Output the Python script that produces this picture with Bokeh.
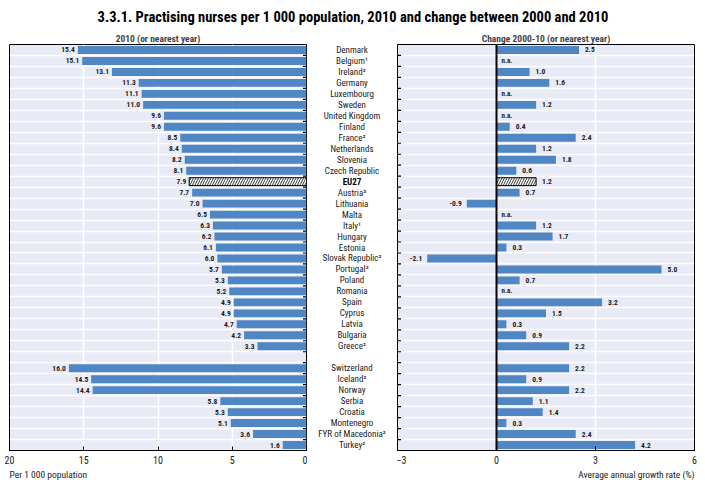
import numpy as np
from bokeh.plotting import figure
from bokeh.layouts import column, row
from bokeh.models import (ColumnDataSource, Range1d, FixedTicker, Span, Title)
from bokeh.core.properties import value
from bokeh.embed import file_html
from bokeh.resources import INLINE

# ---------------- data ----------------
countries = ["Denmark", "Belgium¹", "Ireland²", "Germany", "Luxembourg", "Sweden",
             "United Kingdom", "Finland", "France²", "Netherlands", "Slovenia",
             "Czech Republic", "EU27", "Austria³", "Lithuania", "Malta", "Italy¹",
             "Hungary", "Estonia", "Slovak Republic²", "Portugal²", "Poland",
             "Romania", "Spain", "Cyprus", "Latvia", "Bulgaria", "Greece²",
             "",
             "Switzerland", "Iceland²", "Norway", "Serbia", "Croatia", "Montenegro",
             "FYR of Macedonia²", "Turkey²"]

nurses_2010 = [15.4, 15.1, 13.1, 11.3, 11.1, 11.0, 9.6, 9.6, 8.5, 8.4, 8.2, 8.1,
               7.9, 7.7, 7.0, 6.5, 6.3, 6.2, 6.1, 6.0, 5.7, 5.3, 5.2, 4.9, 4.9,
               4.7, 4.2, 3.3,
               None,
               16.0, 14.5, 14.4, 5.8, 5.3, 5.1, 3.6, 1.6]

growth_2000_10 = [2.5, None, 1.0, 1.6, None, 1.2, None, 0.4, 2.4, 1.2, 1.8, 0.6,
                  1.2, 0.7, -0.9, None, 1.2, 1.7, 0.3, -2.1, 5.0, 0.7, None, 3.2,
                  1.5, 0.3, 0.9, 2.2,
                  None,
                  2.2, 0.9, 2.2, 1.1, 1.4, 0.3, 2.4, 4.2]

left_ticks = [20, 15, 10, 5, 0]
right_ticks = [-3, 0, 3, 6]

title_text = "3.3.1. Practising nurses per 1 000 population, 2010 and change between 2000 and 2010"
left_sub = "2010 (or nearest year)"
right_sub = "Change 2000-10 (or nearest year)"
left_xlabel = "Per 1 000 population"
right_xlabel = "Average annual growth rate (%)"
HIGHLIGHT = "EU27"
BLANK = ""

# ---------------- styles ----------------
BG = "#E8EAF5"
BLUE = "#4F86C4"
FONT = "Roboto Condensed, Liberation Sans Narrow, DejaVu Sans Condensed, sans-serif"
TXT = "#1a1a1a"

n = len(countries)
ys = np.arange(n)
y_range = Range1d(n - 0.5, -0.5)
boundaries = list(np.arange(n + 1) - 0.5)

def split(vals):
    bar, hat, na = dict(x=[], y=[], lab=[]), dict(x=[], y=[], lab=[]), dict(y=[])
    for c, v, y in zip(countries, vals, ys):
        if c == BLANK:
            continue
        if v is None:
            na["y"].append(y)
            continue
        d = hat if c == HIGHLIGHT else bar
        d["x"].append(v)
        d["y"].append(y)
        d["lab"].append(f"{v:.1f}")
    return bar, hat, na

def style_panel(p, edge_x):
    p.background_fill_color = BG
    p.border_fill_color = "white"
    p.outline_line_color = "black"
    p.outline_line_width = 1
    p.xgrid.grid_line_color = "white"
    p.xgrid.grid_line_width = 1.5
    p.ygrid.grid_line_color = "white"
    p.ygrid.grid_line_width = 1.5
    p.ygrid.ticker = FixedTicker(ticks=boundaries)
    p.ygrid.level = "underlay"
    p.xaxis.axis_line_color = "black"
    p.xaxis.major_tick_in = 4
    p.xaxis.major_tick_out = 0
    p.xaxis.minor_tick_line_color = None
    p.xaxis.major_label_text_font = FONT
    p.xaxis.major_label_text_font_size = "10px"
    p.xaxis.major_label_text_color = TXT
    p.xaxis.major_label_standoff = 5
    # small row-boundary ticks along the inner edge of the frame
    p.scatter(x=[edge_x] * len(boundaries), y=boundaries, marker="dash",
              size=7, line_color="black", line_width=1.2)
    p.title.text_font = FONT
    p.title.text_font_size = "9.5px"
    p.title.text_font_style = "bold"
    p.title.align = "center"
    p.title.standoff = 1

TOPH = 30
H = 480 - TOPH
TOP = 13
BOTTOM = 30

def hatched(p, src):
    p.hbar(y="y", left=0, right="x", height=0.72, source=ColumnDataSource(src),
           fill_color="white", line_color="black", line_width=1,
           hatch_pattern="/", hatch_color="#222222", hatch_scale=5,
           hatch_weight=0.9)

# ---------------- left panel ----------------
left = figure(width=307, height=H, x_range=Range1d(20, 0), y_range=y_range,
              y_axis_location=None, toolbar_location=None,
              output_backend="svg", title=left_sub,
              min_border_left=9, min_border_right=1,
              min_border_top=TOP, min_border_bottom=BOTTOM)
left.xaxis.ticker = FixedTicker(ticks=left_ticks)
lb, lh, _ = split(nurses_2010)
left.hbar(y="y", left=0, right="x", height=0.72, source=ColumnDataSource(lb),
          fill_color=BLUE, line_color=None)
hatched(left, lh)
style_panel(left, 0)
for src in (lb, lh):
    left.text(x="x", y="y", text="lab", source=ColumnDataSource(src),
              x_offset=-3, text_align="right", text_baseline="middle",
              text_font=value(FONT), text_font_size="7.5px",
              text_font_style="bold", text_color=TXT)
left.add_layout(Title(text=left_xlabel, align="left", text_font=FONT,
                      text_font_size="9.5px", text_font_style="normal",
                      text_color=TXT, standoff=0), "below")

# ---------------- middle labels ----------------
mid = figure(width=89, height=H, x_range=Range1d(-1, 1), y_range=y_range,
             toolbar_location=None, output_backend="svg",
             min_border_left=0, min_border_right=0,
             min_border_top=TOP, min_border_bottom=BOTTOM)
mid.axis.visible = False
mid.grid.visible = False
mid.outline_line_color = None
mid.background_fill_color = "white"
norm = [c for c in countries if c not in (HIGHLIGHT, BLANK)]
norm_y = [y for c, y in zip(countries, ys) if c not in (HIGHLIGHT, BLANK)]
mid.text(x=0, y=norm_y, text=norm, text_align="center", text_baseline="middle",
         text_font=value(FONT), text_font_size="9px", text_color=TXT)
hi_y = [y for c, y in zip(countries, ys) if c == HIGHLIGHT]
mid.text(x=0, y=hi_y, text=[HIGHLIGHT], text_align="center", text_baseline="middle",
         text_font=value(FONT), text_font_size="9px", text_font_style="bold",
         text_color="black")

# ---------------- right panel ----------------
right = figure(width=309, height=H, x_range=Range1d(-3, 6), y_range=y_range,
               y_axis_location=None, toolbar_location=None,
               output_backend="svg", title=right_sub,
               min_border_left=1, min_border_right=11,
               min_border_top=TOP, min_border_bottom=BOTTOM)
right.xaxis.ticker = FixedTicker(ticks=right_ticks)
rb, rh, rna = split(growth_2000_10)
right.hbar(y="y", left=0, right="x", height=0.72, source=ColumnDataSource(rb),
           fill_color=BLUE, line_color=None)
hatched(right, rh)
style_panel(right, right_ticks[0])
right.add_layout(Span(location=0, dimension="height", line_color="black",
                      line_width=2))
for src in (rb, rh):
    pos = {k: [v for v, x in zip(src[k], src["x"]) if x >= 0] for k in src}
    neg = {k: [v for v, x in zip(src[k], src["x"]) if x < 0] for k in src}
    right.text(x="x", y="y", text="lab", source=ColumnDataSource(pos),
               x_offset=6, text_align="left", text_baseline="middle",
               text_font=value(FONT), text_font_size="7.5px",
               text_font_style="bold", text_color=TXT)
    right.text(x="x", y="y", text="lab", source=ColumnDataSource(neg),
               x_offset=-5, text_align="right", text_baseline="middle",
               text_font=value(FONT), text_font_size="7.5px",
               text_font_style="bold", text_color=TXT)
right.text(x=0, y=rna["y"], text=["n.a."] * len(rna["y"]), x_offset=5,
           text_align="left", text_baseline="middle", text_font=value(FONT),
           text_font_size="7px", text_font_style="bold", text_color=TXT)
right.add_layout(Title(text=right_xlabel, align="right", text_font=FONT,
                       text_font_size="9.5px", text_font_style="normal",
                       text_color=TXT, standoff=0), "below")

# ---------------- main title ----------------
top = figure(width=705, height=TOPH, toolbar_location=None, output_backend="svg",
             x_range=Range1d(0, 1), y_range=Range1d(0, 1),
             min_border=0)
top.axis.visible = False
top.grid.visible = False
top.outline_line_color = None
top.text(x=0.5, y=0.5, text=[title_text], text_align="center",
         text_baseline="middle", y_offset=2,
         text_font=value(FONT), text_font_size="14.5px", text_font_style="bold",
         text_color="black")

layout = column(top, row(left, mid, right, spacing=0), spacing=0)

open("out.html", "w").write(file_html(layout, INLINE))
